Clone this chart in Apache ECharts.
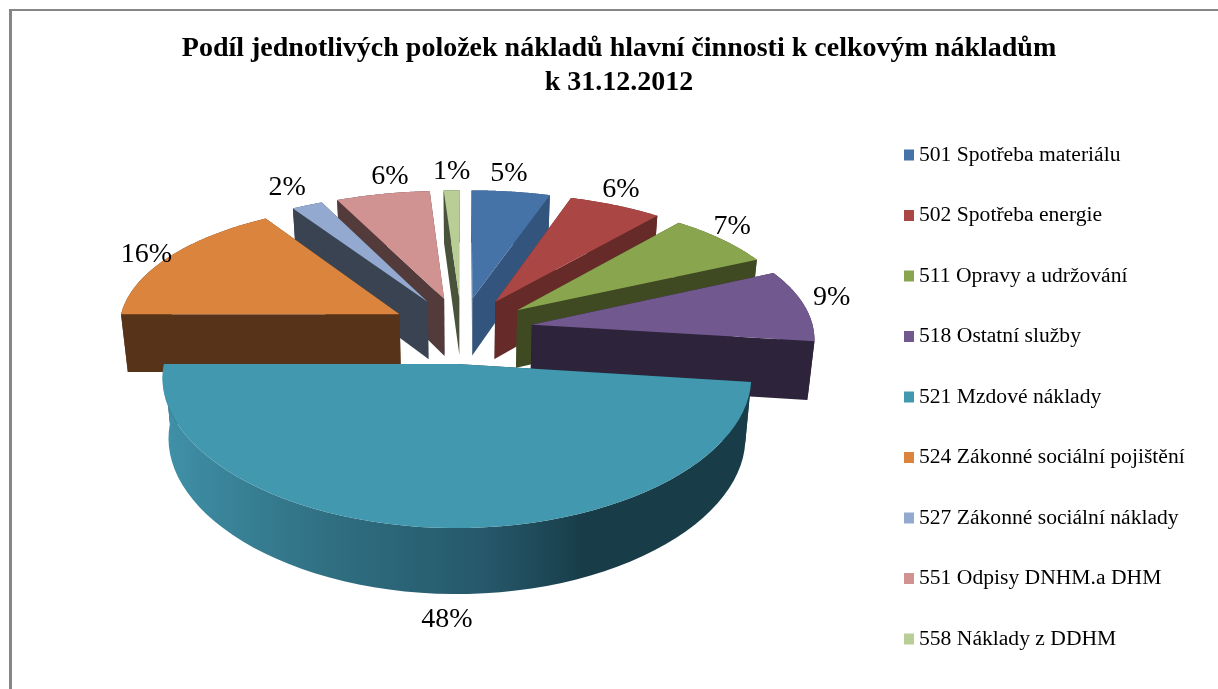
<!DOCTYPE html>
<html>
<head>
<meta charset="utf-8">
<title>Podíl nákladů</title>
<style>
  html,body{margin:0;padding:0;background:#fff;}
  #myChart1{width:1218px;height:689px;}
</style>
<script src="https://cdn.jsdelivr.net/npm/echarts@6/dist/echarts.min.js"></script>
</head>
<body>
<div id="myChart1"></div>
<script>
var titleLines = ['Podíl jednotlivých položek nákladů hlavní činnosti k celkovým nákladům', 'k 31.12.2012'];
var categories = ['501 Spotřeba materiálu', '502 Spotřeba energie', '511 Opravy a udržování', '518 Ostatní služby', '521 Mzdové náklady', '524 Zákonné sociální pojištění', '527 Zákonné sociální náklady', '551 Odpisy DNHM.a DHM', '558 Náklady z DDHM'];
var shares = [5, 6, 7, 9, 48, 16, 2, 6, 1];
var topColors = ['#4572A7', '#AA4643', '#89A54E', '#71588F', '#4198AF', '#DB843D', '#93A9CF', '#D19392', '#B9CD96'];
var wallColors = ['#33557D', '#662A28', '#3F4A22', '#2D233A', '#183C48', '#57331A', '#394352', '#533A3B', '#49533C'];

// pohled na kolac: stred, polomery, perspektiva, vyska a vysunuti vysecu
var view = {cx: 461.5, cy: 330, rx: 286, ry: 132, perspX: 0.095, perspY: 0.134, depth: 58.3, perspD: 0.093, shrink: 0.02, explode: 0.25, farRadius: 0.985, labelR: 1.12};
// dorovnani popisku v pixelech
var labelNudge = [[-7, -5], [-10, -4], [-16, -4], [-9, -5], [13, 2], [8, 5], [-5, -6], [15, -5], [1, -6]];

var total = shares.reduce(function (a, b) { return a + b; }, 0);
var starts = [];
shares.reduce(function (sum, v, i) { starts[i] = sum / total * Math.PI * 2; return sum + v; }, 0);

function project(X, Y, z) {
  var x = view.cx + view.rx * X / (1 - view.perspX * Y) * (1 - view.shrink * z);
  var y = view.cy + view.ry * Y / (1 - view.perspY * Y) + z * view.depth / (1 - view.perspD * Y);
  return [x, y];
}
function sliceGeom(i) {
  var a0 = starts[i];
  var a1 = a0 + shares[i] / total * Math.PI * 2;
  var mid = (a0 + a1) / 2;
  return {
    a0: a0, a1: a1, mid: mid,
    ax: Math.sin(mid) * view.explode,
    ay: -Math.cos(mid) * view.explode,
    r: Math.cos(mid) > 0 ? view.farRadius : 1
  };
}
function rimPoint(g, a, z) {
  return project(g.ax + Math.sin(a) * g.r, g.ay - Math.cos(a) * g.r, z);
}
function arcPoints(g, z, reverse) {
  var pts = [];
  var n = 60;
  for (var k = 0; k <= n; k++) {
    var t = reverse ? n - k : k;
    pts.push(rimPoint(g, g.a0 + (g.a1 - g.a0) * t / n, z));
  }
  return pts;
}

function renderSlice(i) {
  return function () {
    var g = sliceGeom(i);
    var apexT = project(g.ax, g.ay, 0);
    var apexB = project(g.ax, g.ay, 1);
    var wall = {fill: wallColors[i]};
    var arcFill = wallColors[i];
    if (i === 4) {
      arcFill = new echarts.graphic.LinearGradient(0, 0, 1, 0, [
        {offset: 0, color: '#3F92A9'},
        {offset: 0.1, color: '#3A8499'},
        {offset: 0.3, color: '#2F6D80'},
        {offset: 0.55, color: '#25586A'},
        {offset: 0.72, color: '#183C48'},
        {offset: 1, color: '#183C48'}
      ]);
    }
    return {
      type: 'group',
      children: [
        {type: 'polygon', shape: {points: [apexT, rimPoint(g, g.a0, 0), rimPoint(g, g.a0, 1), apexB]}, style: wall},
        {type: 'polygon', shape: {points: [apexT, rimPoint(g, g.a1, 0), rimPoint(g, g.a1, 1), apexB]}, style: wall},
        {type: 'polygon', shape: {points: arcPoints(g, 0).concat(arcPoints(g, 1, true))}, style: {fill: arcFill}},
        {type: 'polygon', shape: {points: [apexT].concat(arcPoints(g, 0))}, style: {fill: topColors[i]}}
      ]
    };
  };
}

function renderLabel(params, api) {
  var i = params.dataIndex;
  var g = sliceGeom(i);
  var front = Math.cos(g.mid) < 0 ? 1 : 0;
  var pos = project(g.ax + Math.sin(g.mid) * view.labelR, g.ay - Math.cos(g.mid) * view.labelR, front);
  return {
    type: 'text',
    style: {
      x: pos[0] + labelNudge[i][0], y: pos[1] + labelNudge[i][1],
      text: api.value(0) + '%',
      fill: '#000',
      font: '28px "Liberation Serif"',
      align: 'center',
      verticalAlign: 'middle'
    }
  };
}

// vzadu kreslit drive, vepredu pozdeji
var order = shares.map(function (v, i) { return i; }).sort(function (p, q) {
  return Math.cos(sliceGeom(q).mid) - Math.cos(sliceGeom(p).mid);
});

var series = categories.map(function (name, i) {
  return {
    type: 'custom',
    name: name,
    coordinateSystem: 'none',
    silent: true,
    z: 2 + order.indexOf(i),
    itemStyle: {color: topColors[i]},
    renderItem: renderSlice(i),
    data: [shares[i]]
  };
});
series.push({
  type: 'custom',
  name: 'popisky',
  coordinateSystem: 'none',
  silent: true,
  z: 30,
  renderItem: renderLabel,
  data: shares
});

var myChart1 = echarts.init(document.getElementById('myChart1'), null, {renderer: 'canvas'});
myChart1.setOption({
  animation: false,
  backgroundColor: '#fff',
  title: {
    text: titleLines.join('\n'),
    left: 614,
    top: 27,
    textAlign: 'center',
    textStyle: {fontFamily: 'Liberation Serif', fontWeight: 'bold', fontSize: 28, lineHeight: 34, color: '#000'}
  },
  legend: {
    data: categories,
    orient: 'vertical',
    left: 904,
    top: 144,
    padding: 0,
    itemWidth: 10,
    itemHeight: 11,
    itemGap: 38.5,
    icon: 'rect',
    selectedMode: false,
    textStyle: {fontFamily: 'Liberation Serif', fontSize: 21.6, lineHeight: 18, padding: [2, 0, 0, 0], color: '#000'}
  },
  graphic: [
    {type: 'rect', shape: {x: 9, y: 9, width: 1209, height: 2}, style: {fill: '#868686'}},
    {type: 'rect', shape: {x: 9, y: 9, width: 3, height: 680}, style: {fill: '#868686'}}
  ],
  series: series
});
</script>
</body>
</html>
